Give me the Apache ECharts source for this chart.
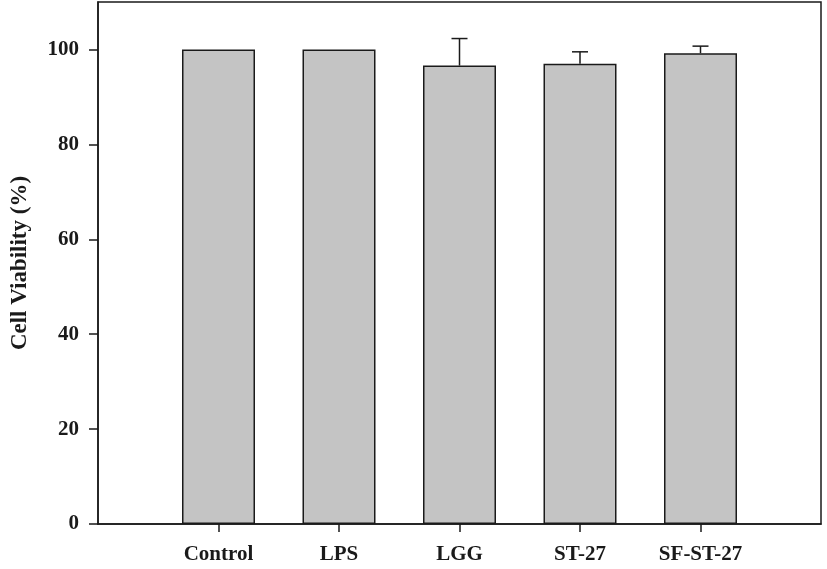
<!DOCTYPE html>
<html>
<head>
<meta charset="utf-8">
<script src="https://cdn.jsdelivr.net/npm/echarts@6/dist/echarts.min.js"></script>
<style>html,body{margin:0;padding:0;background:#fff}#c{width:827px;height:569px}</style>
</head>
<body>
<div id="c"></div>
<script>
const categories = ['Control', 'LPS', 'LGG', 'ST-27', 'SF-ST-27'];
const viability = [100, 100, 96.6, 97.0, 99.2];
const errors = [0, 0, 5.7, 2.5, 1.5];
const yTicks = [0, 20, 40, 60, 80, 100];

const axisCats = [''].concat(categories, ['']);
const barData = ['-'].concat(viability, ['-']);
const errData = categories.map((c, i) => [i + 1, viability[i], errors[i]]).filter(d => d[2] > 0);

const font = '"Liberation Serif", "Times New Roman", serif';
const ink = '#1a1a1a';

const chart = echarts.init(document.getElementById('c'));
chart.setOption({
  animation: false,
  grid: { left: 98, right: 6, top: 2, bottom: 45, show: true, borderColor: ink, borderWidth: 1.5, containLabel: false, outerBoundsMode: 'none' },
  xAxis: {
    type: 'category', data: axisCats, boundaryGap: false,
    axisLine: { lineStyle: { color: ink, width: 1.5 } },
    axisTick: { length: 8, lineStyle: { color: ink, width: 1.5 }, interval: (i, v) => v !== '' },
    axisLabel: { interval: 0, margin: 20, fontFamily: font, fontWeight: 'bold', fontSize: 21, color: ink },
    splitLine: { show: false }
  },
  yAxis: {
    type: 'value', min: 0, max: 110, interval: 10,
    name: 'Cell Viability (%)', nameLocation: 'middle', nameGap: 66,
    nameTextStyle: { fontFamily: font, fontWeight: 'bold', fontSize: 23, color: ink },
    axisLine: { show: true, lineStyle: { color: ink, width: 1.5 } },
    axisTick: { show: true, inside: false, length: 9, customValues: yTicks, lineStyle: { color: ink, width: 1.5 } },
    axisLabel: { customValues: yTicks, margin: 19, fontFamily: font, fontWeight: 'bold', fontSize: 21, color: ink },
    splitLine: { show: false }
  },
  series: [
    {
      type: 'bar', data: barData, barWidth: 73,
      itemStyle: { color: '#c4c4c4', borderColor: ink, borderWidth: 1.5 }
    },
    {
      type: 'custom', data: errData, z: 3,
      renderItem: function (params, api) {
        const x = api.value(0), m = api.value(1), e = api.value(2);
        const p0 = api.coord([x, m]);
        const p1 = api.coord([x, m + e]);
        const half = 8;
        const st = { stroke: ink, lineWidth: 1.5 };
        return {
          type: 'group', children: [
            { type: 'line', shape: { x1: p0[0], y1: p0[1], x2: p1[0], y2: p1[1] }, style: st },
            { type: 'line', shape: { x1: p1[0] - half, y1: p1[1], x2: p1[0] + half, y2: p1[1] }, style: st }
          ]
        };
      }
    }
  ]
});
</script>
</body>
</html>
